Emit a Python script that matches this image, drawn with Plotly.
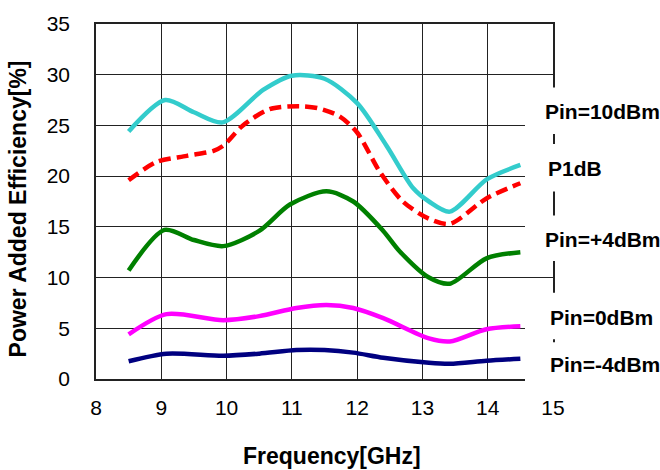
import plotly.graph_objects as go

# Frequency [GHz] sample points for each curve
freq_p10 = [8.5, 9.06, 9.5, 9.94, 10.56, 11.0, 11.5, 12.0, 12.45, 12.86, 13.1, 13.42, 13.99, 14.5]
pae_p10 = [24.4, 27.5, 26.3, 25.3, 28.5, 29.9, 29.6, 27.2, 23.0, 18.8, 17.5, 16.5, 19.7, 21.1]

freq_p1db = [8.5, 8.93, 9.39, 9.8, 9.95, 10.25, 10.66, 11.1, 11.4, 11.73, 12.0, 12.35, 12.7, 13.1, 13.42, 13.98, 14.5]
pae_p1db = [19.6, 21.4, 22.0, 22.5, 23.0, 25.0, 26.6, 26.9, 26.7, 25.9, 24.3, 20.4, 17.5, 15.8, 15.3, 17.8, 19.3]

freq_p4 = [8.5, 9.05, 9.5, 9.95, 10.5, 10.97, 11.53, 11.94, 12.4, 12.65, 13.1, 13.42, 13.98, 14.5]
pae_p4 = [10.7, 14.7, 13.7, 13.1, 14.6, 17.2, 18.5, 17.5, 14.6, 12.6, 10.0, 9.4, 11.9, 12.5]

freq_p0 = [8.5, 9.08, 9.95, 10.5, 11.07, 11.53, 11.94, 12.4, 13.1, 13.42, 13.98, 14.5]
pae_p0 = [4.4, 6.4, 5.8, 6.2, 7.0, 7.3, 7.0, 6.0, 4.0, 3.7, 4.9, 5.2]

freq_m4 = [8.5, 9.08, 9.95, 10.5, 11.07, 11.5, 11.94, 12.4, 13.1, 13.42, 13.98, 14.5]
pae_m4 = [1.75, 2.5, 2.3, 2.5, 2.85, 2.85, 2.6, 2.1, 1.6, 1.5, 1.8, 2.0]

x_ticks = [8, 9, 10, 11, 12, 13, 14, 15]
y_ticks = [0, 5, 10, 15, 20, 25, 30, 35]

labels = ["Pin=10dBm", "P1dB", "Pin=+4dBm", "Pin=0dBm", "Pin=-4dBm"]

fig = go.Figure()

series = [
    (freq_p10, pae_p10, "#33CCCC", "solid"),
    (freq_p1db, pae_p1db, "#FF0000", "12px,6px"),
    (freq_p4, pae_p4, "#008000", "solid"),
    (freq_p0, pae_p0, "#FF00FF", "solid"),
    (freq_m4, pae_m4, "#000080", "solid"),
]
for (xs, ys, col, dash), name in zip(series, labels):
    fig.add_trace(go.Scatter(x=xs, y=ys, mode="lines", name=name,
                             line=dict(color=col, width=4.5, dash=dash, shape="spline", smoothing=0.8),
                             showlegend=False))

# plot area in px: x 96..553, y 21..379
L, R, T, B = 96, 553, 21, 379
W, H = R - L, B - T

def px(xp):
    return (xp - L) / W

def py(yp):
    return (B - yp) / H

# white boxes behind labels (cover right border/grid ends)
boxes = [(85, 132), (142, 190), (214, 260), (292, 339), (342, 398)]
for y0, y1 in boxes:
    fig.add_shape(type="rect", xref="paper", yref="paper",
                  x0=px(525), x1=px(665), y0=py(y1), y1=py(y0),
                  fillcolor="white", line=dict(width=0), layer="above")

label_pos = [(543, 109), (546, 167), (543, 238), (548, 317), (548, 364)]
for text, (lx, ly) in zip(labels, label_pos):
    fig.add_annotation(text=text, xref="paper", yref="paper", x=px(lx), y=py(ly),
                       xanchor="left", yanchor="middle", showarrow=False,
                       font=dict(family="Liberation Sans", size=21, color="black", weight="bold"))

fig.add_annotation(text="Frequency[GHz]", xref="paper", yref="paper", x=px(332), y=py(457),
                   xanchor="center", yanchor="middle", showarrow=False,
                   font=dict(family="Liberation Sans", size=23, color="black", weight="bold"))
fig.add_annotation(text="Power Added Efficiency[%]", xref="paper", yref="paper", x=px(18), y=py(208),
                   xanchor="center", yanchor="middle", showarrow=False, textangle=-90,
                   font=dict(family="Liberation Sans", size=23, color="black", weight="bold"))

fig.update_xaxes(range=[8, 15], tickvals=x_ticks, showgrid=True, gridcolor="#222222", gridwidth=1.4,
                 showline=True, linecolor="#222222", linewidth=1.5, mirror=True, zeroline=False,
                 ticks="", ticklabelstandoff=9,
                 tickfont=dict(family="Liberation Sans", size=21, color="black"))
fig.update_yaxes(range=[0, 35], tickvals=y_ticks, showgrid=True, gridcolor="#222222", gridwidth=1.4,
                 showline=True, linecolor="#222222", linewidth=1.5, mirror=True, zeroline=False,
                 ticks="", ticklabelstandoff=20,
                 tickfont=dict(family="Liberation Sans", size=21, color="black"))

fig.update_layout(width=660, height=470, paper_bgcolor="white", plot_bgcolor="white",
                  margin=dict(l=L, r=660 - R, t=T, b=470 - B), showlegend=False)

fig.write_html("out.html")
